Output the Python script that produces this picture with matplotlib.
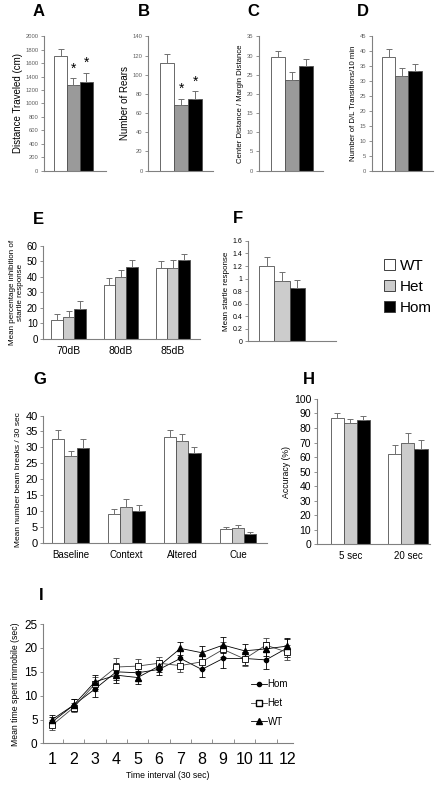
import matplotlib
matplotlib.use("Agg")
import matplotlib.pyplot as plt
import numpy as np
from matplotlib.lines import Line2D
from matplotlib.patches import Patch
from matplotlib.ticker import FuncFormatter

plt.rcParams['font.family'] = ['Liberation Sans', 'DejaVu Sans']

# data
genotypes = ["WT", "Het", "Hom"]

dist = [1700, 1270, 1320]
dist_err = [110, 110, 140]
rears = [112, 68, 75]
rears_err = [10, 7, 7.5]
center = [29.5, 23.7, 27.4]
center_err = [1.6, 2.1, 1.8]
transitions = [38, 31.7, 33.5]
transitions_err = [2.8, 2.7, 2.3]

ppi_labels = ["70dB", "80dB", "85dB"]
ppi = {"WT": [12, 35, 45.5], "Het": [14, 40, 45.5], "Hom": [19.5, 46.5, 51]}
ppi_err = {"WT": [4, 4, 4.5], "Het": [4, 4.5, 5], "Hom": [5, 4, 3.5]}

startle = [1.2, 0.96, 0.85]
startle_err = [0.15, 0.14, 0.12]

fear_labels = ["Baseline", "Context", "Altered", "Cue"]
fear = {"WT": [32.5, 9, 33.3, 4.2], "Het": [27.2, 11.2, 32, 4.7], "Hom": [29.8, 10, 28.2, 2.6]}
fear_err = {"WT": [3, 1.5, 2, 0.8], "Het": [1.5, 2.5, 2.3, 1], "Hom": [2.8, 2, 2, 0.8]}

acc_labels = ["5 sec", "20 sec"]
acc = {"WT": [87, 62], "Het": [83.5, 70], "Hom": [85.5, 65.5]}
acc_err = {"WT": [3, 6.5], "Het": [3, 6.5], "Hom": [3, 6]}

interval = [1, 2, 3, 4, 5, 6, 7, 8, 9, 10, 11, 12]
imm_hom = [4.5, 8.0, 11.4, 15.0, 14.8, 15.5, 17.8, 15.5, 17.8, 17.8, 17.5, 20.0]
imm_het = [3.8, 7.5, 12.4, 16.0, 16.2, 16.8, 16.3, 17.1, 19.7, 17.7, 20.6, 19.1]
imm_wt = [5.0, 8.0, 12.9, 14.3, 13.8, 16.2, 19.9, 19.0, 20.6, 19.4, 19.8, 20.4]
imm_hom_err = [1.0, 1.2, 1.6, 1.8, 1.6, 1.2, 1.8, 1.6, 1.9, 1.4, 1.9, 1.8]
imm_het_err = [1.0, 1.0, 1.5, 1.8, 1.5, 1.4, 1.4, 1.6, 1.6, 1.5, 1.4, 1.6]
imm_wt_err = [1.0, 1.3, 1.5, 1.7, 1.3, 1.3, 1.3, 1.5, 1.6, 1.5, 1.4, 1.7]

dark_cols = ["white", "#9a9a9a", "black"]
light_cols = ["white", "#cccccc", "black"]
spine_c = "#808080"

fig = plt.figure(figsize=(4.45, 7.9), dpi=100)


def letter(x, y, s):
    fig.text(x, y, s, fontsize=12, fontweight="bold", ha="left", va="center")


def style(ax, tsize):
    for s in ["top", "right"]:
        ax.spines[s].set_visible(False)
    for s in ["left", "bottom"]:
        ax.spines[s].set_color(spine_c)
        ax.spines[s].set_linewidth(0.8)
    ax.tick_params(axis="y", labelsize=tsize, length=2.5, width=0.6, color=spine_c, pad=1.5)
    ax.tick_params(axis="x", length=0)


def simple_bars(rect, vals, errs, xlim, ymax, ystep, ylabel, lsize, stars=False):
    ax = fig.add_axes(rect)
    x = np.arange(3)
    ax.bar(x, vals, width=1.0, color=dark_cols, edgecolor="#505050", linewidth=0.6)
    ax.errorbar(x, vals, yerr=[np.zeros(3), errs], fmt="none", ecolor="#707070",
                elinewidth=0.7, capsize=2, capthick=0.7)
    ax.set_xlim(*xlim)
    ax.set_ylim(0, ymax)
    ax.set_yticks(np.arange(0, ymax + ystep / 2, ystep))
    ax.set_xticks([])
    style(ax, 4.2)
    for lab in ax.get_yticklabels():
        lab.set_color("#606060")
    ax.set_ylabel(ylabel, fontsize=lsize, labelpad=2)
    if stars:
        for i in [1, 2]:
            ax.text(i, vals[i] + errs[i] + ymax * 0.02, "*", ha="center", va="bottom", fontsize=10)
    return ax


simple_bars([0.099, 0.784, 0.139, 0.170], dist, dist_err, (-1.27, 3.5), 2000, 200,
            "Distance Traveled (cm)", 7, stars=True)
simple_bars([0.333, 0.784, 0.146, 0.170], rears, rears_err, (-1.36, 3.28), 140, 20,
            "Number of Rears", 7, stars=True)
simple_bars([0.582, 0.784, 0.144, 0.170], center, center_err, (-1.36, 3.21), 35, 5,
            "Center Distance / Margin Distance", 5.6)
simple_bars([0.836, 0.784, 0.137, 0.170], transitions, transitions_err, (-1.25, 3.35), 45, 5,
            "Number of D/L Transitions/10 min", 5.6)
letter(0.074, 0.986, "A")
letter(0.31, 0.986, "B")
letter(0.557, 0.986, "C")
letter(0.802, 0.986, "D")


def grouped(rect, data, errs, cats, xlim, ymax, ystep, ylabel, lsize, tsize, xsize, bw):
    ax = fig.add_axes(rect)
    x = np.arange(len(cats))
    for k, g in enumerate(genotypes):
        pos = x + (k - 1) * bw
        ax.bar(pos, data[g], width=bw, color=light_cols[k], edgecolor="#505050", linewidth=0.6)
        ax.errorbar(pos, data[g], yerr=[np.zeros(len(cats)), errs[g]], fmt="none",
                    ecolor="#707070", elinewidth=0.7, capsize=2, capthick=0.7)
    ax.set_xlim(*xlim)
    ax.set_ylim(0, ymax)
    ax.set_yticks(np.arange(0, ymax + ystep / 2, ystep))
    ax.set_xticks(x)
    ax.set_xticklabels(cats, fontsize=xsize)
    style(ax, tsize)
    ax.tick_params(axis="x", pad=5)
    ax.set_ylabel(ylabel, fontsize=lsize, labelpad=2)
    return ax


grouped([0.097, 0.571, 0.353, 0.118], ppi, ppi_err, ppi_labels, (-0.49, 2.53), 60, 10,
        "Mean percentage inhibition of\nstartle response", 5.8, 7, 7.5, 0.22)
letter(0.074, 0.722, "E")

# F
axf = fig.add_axes([0.557, 0.568, 0.198, 0.127])
xf = np.arange(3)
axf.bar(xf, startle, width=1.0, color=light_cols, edgecolor="#505050", linewidth=0.6)
axf.errorbar(xf, startle, yerr=[np.zeros(3), startle_err], fmt="none", ecolor="#707070",
             elinewidth=0.7, capsize=2, capthick=0.7)
axf.set_xlim(-1.22, 4.53)
axf.set_ylim(0, 1.6)
axf.set_yticks(np.arange(0, 1.61, 0.2))
axf.yaxis.set_major_formatter(FuncFormatter(lambda v, p: "%g" % round(v, 1)))
axf.set_xticks([])
style(axf, 5)
axf.set_ylabel("Mean startle response", fontsize=5.8, labelpad=2)
letter(0.524, 0.723, "F")

handles = [Patch(facecolor=c, edgecolor="#404040", linewidth=0.7) for c in light_cols]
fig.legend(handles, genotypes, loc="center left", bbox_to_anchor=(0.845, 0.637),
           frameon=False, fontsize=11, handlelength=0.75, handleheight=0.75,
           handletextpad=0.3, labelspacing=0.45, borderpad=0)

grouped([0.097, 0.313, 0.503, 0.161], fear, fear_err, fear_labels, (-0.49, 3.52), 40, 5,
        "Mean number beam breaks / 30 sec", 6, 8, 7, 0.22)
letter(0.074, 0.519, "G")

grouped([0.712, 0.311, 0.254, 0.184], acc, acc_err, acc_labels, (-0.58, 1.38), 100, 10,
        "Accuracy (%)", 6.3, 7.5, 7, 0.226)
letter(0.681, 0.519, "H")

# I
axi = fig.add_axes([0.097, 0.059, 0.562, 0.151])
axi.errorbar(interval, imm_hom, yerr=imm_hom_err, color="black", marker="o", ms=3,
             lw=0.6, elinewidth=0.6, capsize=2, capthick=0.6)
axi.errorbar(interval, imm_het, yerr=imm_het_err, color="#404040", marker="s", ms=4,
             mfc="white", mec="black", mew=0.6, lw=0.6, elinewidth=0.6, capsize=2,
             capthick=0.6)
axi.errorbar(interval, imm_wt, yerr=imm_wt_err, color="black", marker="^", ms=4,
             lw=0.6, elinewidth=0.6, capsize=2, capthick=0.6)
axi.set_xlim(0.58, 12.28)
axi.set_ylim(0, 25)
axi.set_yticks(np.arange(0, 26, 5))
axi.set_xticks(interval)
axi.set_xticks(np.arange(1.5, 12, 1), minor=True)
style(axi, 8.5)
axi.tick_params(axis="x", labelsize=11.5, pad=6)
axi.tick_params(axis="x", which="minor", direction="in", length=3, width=0.6, color=spine_c)
axi.set_xlabel("Time interval (30 sec)", fontsize=6.2, labelpad=3)
axi.set_ylabel("Mean time spent immobile (sec)", fontsize=6.2, labelpad=3)
hl = [Line2D([], [], color="black", marker="o", ms=3, lw=0.6),
      Line2D([], [], color="#404040", marker="s", ms=4, mfc="white", mec="black", lw=0.6),
      Line2D([], [], color="black", marker="^", ms=4, lw=0.6)]
axi.legend(hl, ["Hom", "Het", "WT"], loc="center left", bbox_to_anchor=(0.553, 0.11),
           bbox_transform=fig.transFigure, frameon=False, fontsize=7, handlelength=1.6,
           handletextpad=0.1, labelspacing=0.9, borderpad=0)
letter(0.088, 0.246, "I")

fig.savefig("out.png", dpi=100)
